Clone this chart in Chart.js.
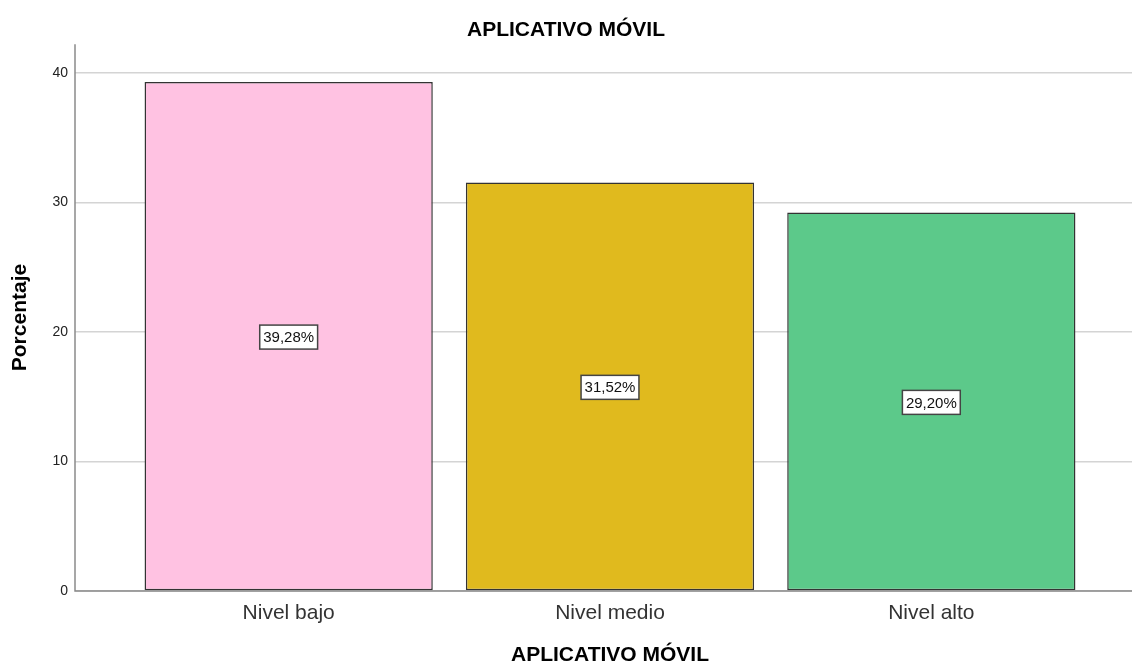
<!DOCTYPE html>
<html>
<head>
<meta charset="utf-8">
<title>APLICATIVO MÓVIL</title>
<script src="https://cdn.jsdelivr.net/npm/chart.js@4/dist/chart.umd.min.js"></script>
<style>
  html, body { margin: 0; padding: 0; background: #fff; }
  #wrap { width: 1132px; height: 665px; }
</style>
</head>
<body>
<div id="wrap"><canvas id="nivelChart"></canvas></div>
<script>
// Porcentaje por nivel
const niveles = ['Nivel bajo', 'Nivel medio', 'Nivel alto'];
const porcentajes = [39.28, 31.52, 29.20];
const coloresBarra = ['#FFC2E2', '#E0BA1E', '#5CC98A'];
const ticksY = [0, 10, 20, 30, 40];

const FONT = '"Liberation Sans", Arial, sans-serif';

// value boxes in the middle of each bar, plus the axis lines
const etiquetas = {
    id: 'etiquetas',
    afterDatasetsDraw(chart) {
        const ctx = chart.ctx;
        const meta = chart.getDatasetMeta(0);
        ctx.save();
        ctx.font = '15px ' + FONT;
        ctx.textAlign = 'center';
        ctx.textBaseline = 'middle';
        meta.data.forEach((bar, i) => {
            const txt = porcentajes[i].toFixed(2).replace('.', ',') + '%';
            const w = ctx.measureText(txt).width + 7;
            const h = 24;
            const cx = bar.x;
            const cy = (bar.y + bar.base) / 2 + 1;
            ctx.fillStyle = '#fff';
            ctx.fillRect(cx - w / 2, cy - h / 2, w, h);
            ctx.strokeStyle = '#444';
            ctx.lineWidth = 1.5;
            ctx.strokeRect(cx - w / 2, cy - h / 2, w, h);
            ctx.fillStyle = '#111';
            ctx.fillText(txt, cx, cy + 1);
        });
        ctx.restore();
    },
    afterDraw(chart) {
        const ctx = chart.ctx;
        const y = chart.scales.y;
        const ejeX = y.right - y.options.grid.tickLength;
        const base = y.getPixelForValue(0);
        ctx.save();
        ctx.strokeStyle = '#8a8a8a';
        ctx.lineWidth = 1.5;
        ctx.beginPath();
        ctx.moveTo(ejeX, chart.chartArea.top);
        ctx.lineTo(ejeX, base);
        ctx.lineTo(chart.width, base);
        ctx.stroke();
        ctx.restore();
    }
};

new Chart(document.getElementById('nivelChart'), {
    type: 'bar',
    data: {
        labels: niveles,
        datasets: [{
            data: porcentajes,
            backgroundColor: coloresBarra,
            borderColor: '#333',
            borderWidth: 1.5,
            borderSkipped: false,
            categoryPercentage: 1,
            barPercentage: 0.897
        }]
    },
    options: {
        responsive: true,
        maintainAspectRatio: false,
        animation: false,
        layout: { padding: { left: 0, right: 0, top: 0, bottom: 0 } },
        plugins: {
            legend: { display: false },
            tooltip: { enabled: false },
            title: {
                display: true,
                text: 'APLICATIVO MÓVIL',
                color: '#000',
                font: { family: FONT, size: 21, weight: 'bold' },
                padding: { top: 17.5, bottom: 1.5 }
            }
        },
        scales: {
            x: {
                grid: { display: false },
                border: { display: false },
                ticks: { color: '#333', padding: 2, font: { family: FONT, size: 21 } },
                title: {
                    display: true,
                    text: 'APLICATIVO MÓVIL',
                    color: '#000',
                    font: { family: FONT, size: 21, weight: 'bold', lineHeight: 0.9 },
                    padding: { top: 18, bottom: 0 }
                }
            },
            y: {
                min: 0,
                max: 42.2,
                afterFit: s => { s.width = 128; },
                afterBuildTicks: s => { s.ticks = ticksY.map(v => ({ value: v })); },
                border: { display: false },
                grid: { color: '#d4d4d4', lineWidth: 1.5, tickLength: 53 },
                ticks: { color: '#222', padding: 7, font: { family: FONT, size: 14 } },
                title: {
                    display: true,
                    text: 'Porcentaje',
                    color: '#000',
                    font: { family: FONT, size: 21, weight: 'bold' },
                    padding: { top: 8, bottom: 0 }
                }
            },
            y2: {
                position: 'right',
                min: 0,
                max: 42.2,
                afterFit: s => { s.width = 40; },
                afterBuildTicks: s => { s.ticks = ticksY.map(v => ({ value: v })); },
                border: { display: false },
                grid: { color: '#d4d4d4', lineWidth: 1.5, tickLength: 40, drawOnChartArea: false },
                ticks: { display: false }
            }
        }
    },
    plugins: [etiquetas]
});
</script>
</body>
</html>
